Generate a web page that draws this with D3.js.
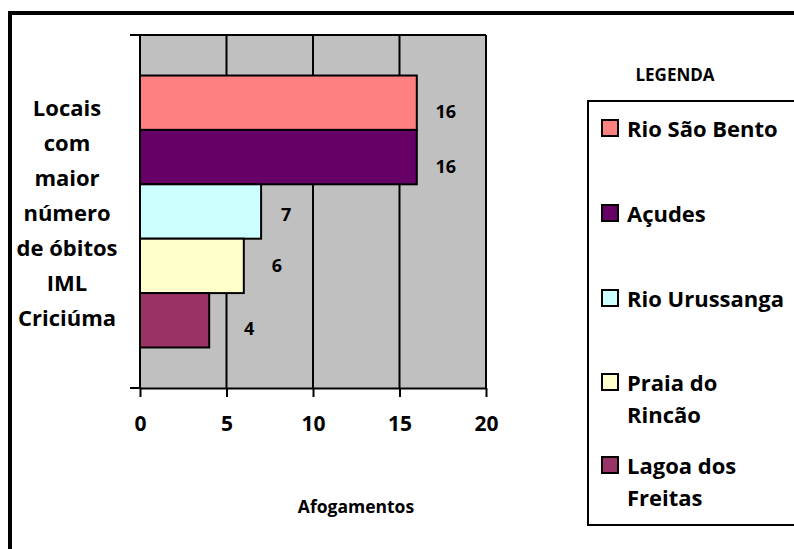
<!DOCTYPE html>
<html>
<head>
<meta charset="utf-8">
<script src="https://cdn.jsdelivr.net/npm/d3@7"></script>
<style>
  html, body { margin: 0; padding: 0; background: #fff; }
  svg { display: block; font-family: "Open Sans", Lato, sans-serif; font-weight: bold; }
</style>
</head>
<body>
<svg id="chart" width="794" height="549"></svg>
<script>
// Locais com maior número de óbitos por afogamento (IML Criciúma)
const categories = ["Rio São Bento", "Açudes", "Rio Urussanga", "Praia do Rincão", "Lagoa dos Freitas"];
const values = [16, 16, 7, 6, 4];
const colors = ["#FF8080", "#660066", "#CCFFFF", "#FFFFCC", "#993366"];
const xTicks = [0, 5, 10, 15, 20];
const legendLines = [["Rio São Bento"], ["Açudes"], ["Rio Urussanga"], ["Praia do", "Rincão"], ["Lagoa dos", "Freitas"]];
const yTitleLines = ["Locais", "com", "maior", "número", "de óbitos", "IML", "Criciúma"];
const xTitle = "Afogamentos";
const legendTitle = "LEGENDA";

const svg = d3.select("#chart");

// outer frame
svg.append("rect")
  .attr("x", 10).attr("y", 13).attr("width", 800).attr("height", 560)
  .attr("fill", "none").attr("stroke", "#000").attr("stroke-width", 4);

const plot = { left: 140, right: 486, top: 35, bottom: 388 };

const x = d3.scaleLinear().domain([0, 20]).range([plot.left, plot.right]);
const y = d3.scaleBand().domain(categories).range([plot.top, plot.bottom])
  .paddingInner(0).paddingOuter(0.745);

// plot background
svg.append("rect")
  .attr("x", plot.left).attr("y", plot.top)
  .attr("width", plot.right - plot.left).attr("height", plot.bottom - plot.top)
  .attr("fill", "#C0C0C0");

// vertical gridlines
svg.append("g").selectAll("line")
  .data(xTicks.slice(1))
  .join("line")
  .attr("x1", d => x(d)).attr("x2", d => x(d))
  .attr("y1", plot.top).attr("y2", plot.bottom)
  .attr("stroke", "#000").attr("stroke-width", 2);

// top border of plot area
svg.append("line")
  .attr("x1", plot.left).attr("x2", plot.right)
  .attr("y1", plot.top).attr("y2", plot.top)
  .attr("stroke", "#000").attr("stroke-width", 2);

// bars
svg.append("g").selectAll("rect")
  .data(categories)
  .join("rect")
  .attr("x", x(0))
  .attr("y", d => y(d))
  .attr("width", (d, i) => x(values[i]) - x(0))
  .attr("height", y.bandwidth())
  .attr("fill", (d, i) => colors[i])
  .attr("stroke", "#000").attr("stroke-width", 2);

// data labels (hand-placed nudges beside each bar end)
const nudge = [[29, 8], [29, 9], [25, 2], [33, -1], [40, 8]];
svg.append("g").selectAll("text")
  .data(categories)
  .join("text")
  .attr("x", (d, i) => x(values[i]) + nudge[i][0])
  .attr("y", (d, i) => y(d) + y.bandwidth() / 2 + nudge[i][1])
  .attr("text-anchor", "middle").attr("dominant-baseline", "central")
  .attr("font-size", 18)
  .text((d, i) => values[i]);

// x axis
const xAxis = svg.append("g")
  .attr("transform", `translate(0,${plot.bottom})`)
  .call(d3.axisBottom(x).tickValues(xTicks).tickSize(9).tickSizeOuter(0).tickPadding(19));
xAxis.select(".domain").attr("stroke", "#000").attr("stroke-width", 2);
xAxis.selectAll(".tick line").attr("stroke", "#000").attr("stroke-width", 2);
xAxis.selectAll(".tick text")
  .attr("font-family", "'Open Sans', sans-serif").attr("font-weight", "bold")
  .attr("font-size", 21).attr("fill", "#000");

// y axis (category axis with boundary ticks)
const yAxis = svg.append("g");
yAxis.append("line")
  .attr("x1", plot.left).attr("x2", plot.left)
  .attr("y1", plot.top).attr("y2", plot.bottom)
  .attr("stroke", "#000").attr("stroke-width", 2);
yAxis.selectAll("line.tk")
  .data([plot.top, plot.bottom])
  .join("line").attr("class", "tk")
  .attr("x1", plot.left - 10).attr("x2", plot.left)
  .attr("y1", d => d).attr("y2", d => d)
  .attr("stroke", "#000").attr("stroke-width", 2);

// y title
svg.append("g").selectAll("text")
  .data(yTitleLines)
  .join("text")
  .attr("x", 67)
  .attr("y", (d, i) => 107 + i * 35)
  .attr("text-anchor", "middle").attr("dominant-baseline", "central")
  .attr("font-size", 22)
  .text(d => d);

// x title
svg.append("text")
  .attr("x", 356).attr("y", 506)
  .attr("text-anchor", "middle").attr("dominant-baseline", "central")
  .attr("font-size", 17.5)
  .text(xTitle);

// legend
svg.append("text")
  .attr("x", 675).attr("y", 74)
  .attr("text-anchor", "middle").attr("dominant-baseline", "central")
  .attr("font-size", 17)
  .text(legendTitle);

svg.append("rect")
  .attr("x", 588).attr("y", 101).attr("width", 260).attr("height", 424)
  .attr("fill", "#fff").attr("stroke", "#000").attr("stroke-width", 2);

const legendY = [128, 213, 298, 382, 465];
const legend = svg.append("g").selectAll("g")
  .data(categories)
  .join("g")
  .attr("transform", (d, i) => `translate(602,${legendY[i]})`);
legend.append("rect")
  .attr("x", 0).attr("y", -8).attr("width", 16).attr("height", 16)
  .attr("fill", (d, i) => colors[i])
  .attr("stroke", "#000").attr("stroke-width", 2);
legend.append("text")
  .attr("x", 25)
  .attr("font-size", 22)
  .selectAll("tspan")
  .data((d, i) => legendLines[i])
  .join("tspan")
  .attr("x", 25)
  .attr("y", (d, j) => j * 32)
  .attr("dominant-baseline", "central")
  .text(d => d);
</script>
</body>
</html>
